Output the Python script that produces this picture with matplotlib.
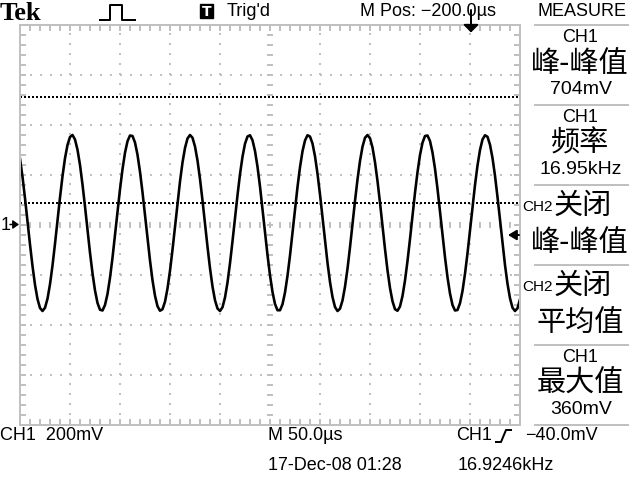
import numpy as np
import matplotlib
matplotlib.use('Agg')
import matplotlib.pyplot as plt
from matplotlib.patches import Rectangle

# CH1 trace in mV, one sample every 2.5 us across the screen
trace_mv = [265, 193, 107, 15, -78, -164, -239, -296, -332, -344,
            -331, -295, -237, -162, -75, 18, 110, 195, 267, 320,
            352, 360, 342, 301, 240, 162, 74, -19, -111, -193,
            -262, -312, -339, -342, -320, -276, -211, -131, -41, 52,
            143, 223, 289, 335, 358, 356, 330, 281, 213, 131,
            40, -53, -142, -221, -283, -325, -343, -337, -307, -254,
            -183, -99, -7, 86, 174, 250, 308, 346, 360, 349,
            314, 258, 184, 98, 5, -87, -173, -246, -301, -334,
            -344, -329, -290, -230, -153, -65, 28, 119, 203, 273,
            325, 354, 359, 339, 296, 233, 154, 64, -29, -120,
            -201, -268, -316, -341, -341, -317, -270, -203, -122, -31,
            62, 152, 231, 295, 338, 359, 354, 326, 275, 205,
            122, 30, -63, -151, -228, -288, -328, -344, -335, -302,
            -247, -175, -89, 3, 96, 182, 256, 313, 349, 360,
            347, 310, 251, 176, 89, -4, -96, -181, -252, -305,
            -337, -343, -326, -284, -222, -144, -56, 38, 129, 211,
            280, 329, 356, 358, 336, 290, 225, 145, 55, -39,
            -129, -209, -274, -320, -342, -340, -313, -264, -195, -113,
            -22, 72, 160, 238, 300, 342, 359, 353, 321, 268,
            197, 112, 20, -72, -160, -235, -293, -331, -344, -333,
            -297]
sample_us = 2.5
screen_us = 500          # 10 div x 50 us
volts_div_mv = 200       # 8 div vertical
cursor_mv = [512, 88]
trigger_mv = -40
trigger_us = 450

# right hand MEASURE menu
menu_src = ['CH1', 'CH1', 'CH2', 'CH2', 'CH1']
menu_off = [False, False, True, True, False]
menu_name = ['峰-峰值', '频率', '峰-峰值', '平均值', '最大值']
menu_value = ['704mV', '16.95kHz', '', '', '360mV']

SCOPE = ['Liberation Sans', 'DejaVu Sans']
CJK = ['Noto Sans CJK SC', 'DejaVu Sans']
GRAY = '#c0c0c0'
PX = 0.72  # points per pixel at 100 dpi

fig = plt.figure(figsize=(6.4, 4.8), dpi=100, facecolor='white')

# graticule: x 20..520 px, y 25..425 px
ax = fig.add_axes([20 / 640, 55 / 480, 500 / 640, 400 / 480])
ax.set_facecolor('none')
ax.set_xlim(0, screen_us)
ax.set_ylim(-4 * volts_div_mv, 4 * volts_div_mv)
for s in ax.spines.values():
    s.set_color(GRAY)
    s.set_linewidth(2 * PX)
ax.set_xticks([])
ax.set_yticks([])
ax.set_xticks(np.arange(0, screen_us + 1, 10), minor=True)
ax.set_yticks(np.arange(-800, 801, 40), minor=True)
ax.tick_params(which='minor', direction='in', length=4, width=2 * PX,
               color=GRAY, top=True, right=True, labelbottom=False, labelleft=False)

# dotted division lines
for k in range(1, 10):
    if k != 5:
        ax.axvline(50 * k, color=GRAY, lw=2 * PX, ls=(0, (1, 4)))
for k in range(1, 8):
    if k != 4:
        ax.axhline(-800 + volts_div_mv * k, color=GRAY, lw=2 * PX, ls=(0, (1, 4)))
# center crosshair with minor dashes
xs = np.arange(10, screen_us, 10)
ax.plot(xs, np.zeros(len(xs)), ls='none', marker='|', ms=6 * PX, mew=2 * PX, color=GRAY)
ys = np.arange(-760, 800, 40)
ax.plot(np.full(len(ys), 250), ys, ls='none', marker='_', ms=6 * PX, mew=2 * PX, color=GRAY)

# cursors
for c in cursor_mv:
    ax.axhline(c, color='black', lw=2 * PX, ls=(0, (1, 1)))

# trace
t = np.arange(len(trace_mv)) * sample_us
ax.plot(t, trace_mv, color='black', lw=2.6 * PX)

# trigger level arrow (right edge)
ax.annotate('', xy=(488, trigger_mv), xytext=(499, trigger_mv),
            arrowprops=dict(arrowstyle='-|>,head_length=0.5,head_width=0.3',
                            color='black', lw=2 * PX, shrinkA=0, shrinkB=0))
# trigger position arrow (top)
ax.annotate('', xy=(trigger_us + 1, 770), xytext=(trigger_us + 1, 860),
            annotation_clip=False,
            arrowprops=dict(arrowstyle='-|>,head_length=0.45,head_width=0.45',
                            color='black', lw=2 * PX, shrinkA=0, shrinkB=0))

# overlay in pixel coordinates for the readouts
ov = fig.add_axes([0, 0, 1, 1])
ov.set_xlim(0, 640)
ov.set_ylim(480, 0)
ov.axis('off')


def txt(x, y, s, size=13, ha='left', fam=SCOPE, color='black', **kw):
    ov.text(x, y, s, fontsize=size, ha=ha, va='center', family=fam, color=color, **kw)


# top bar
txt(0, 13, 'Tek', size=19, fam=['Liberation Serif', 'DejaVu Serif'], fontweight='bold')
ov.plot([100, 110, 110, 122, 122, 135], [20, 20, 5, 5, 20, 20], color='black', lw=2 * PX)
ov.add_patch(Rectangle((200, 4), 13, 14, color='black'))
txt(206.5, 11.5, 'T', size=10, ha='center', fam=['DejaVu Sans'], color='white', fontweight='bold')
txt(227, 11, "Trig'd")
txt(360, 12, 'M Pos: \u2212200.0\u00b5s')
txt(582, 12, 'MEASURE', ha='center')

# ground marker
txt(1, 225, '1')
ov.annotate('', xy=(19, 224.5), xytext=(10, 224.5),
            arrowprops=dict(arrowstyle='-|>,head_length=0.35,head_width=0.25',
                            color='black', lw=1.5 * PX, shrinkA=0, shrinkB=0))

# menu
for i in range(6):
    ov.plot([535, 628], [25 + 80 * i, 25 + 80 * i], color=GRAY, lw=2 * PX)
for i in range(5):
    top = 25 + 80 * i
    if menu_off[i]:
        txt(553, top + 22, menu_src[i], size=11, ha='right')
        txt(554, top + 21, '关闭', size=21, fam=CJK)
        txt(580, top + 58, menu_name[i], size=21, ha='center', fam=CJK)
    else:
        txt(580, top + 12, menu_src[i], ha='center')
        txt(580, top + 39, menu_name[i], size=21, ha='center', fam=CJK)
        txt(581, top + 65, menu_value[i], size=14, ha='center')

# bottom readouts
txt(0, 436, 'CH1  200mV')
txt(268, 436, 'M 50.0\u00b5s')
txt(456, 436, 'CH1')
ov.plot([496, 501, 506, 511], [442, 442, 430, 430], color='black', lw=2 * PX)
txt(598, 436, '\u221240.0mV', ha='right')
txt(268, 465, '17-Dec-08 01:28')
txt(458, 465, '16.9246kHz')

fig.savefig('out.png', dpi=100, facecolor='white')
